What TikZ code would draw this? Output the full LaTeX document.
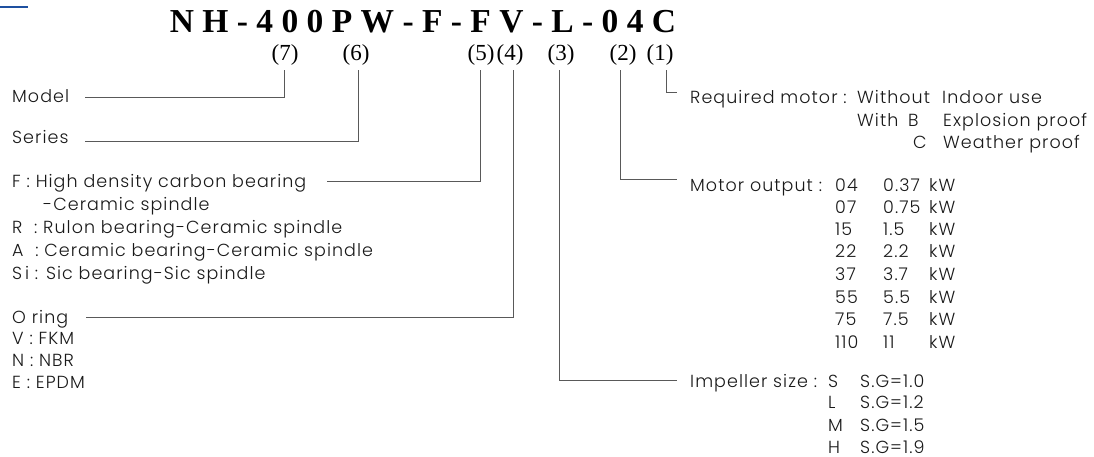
\documentclass[tikz,border=0pt]{standalone}
\usepackage{fontspec}
\setmainfont{Liberation Serif}
\newfontfamily\gothic[LetterSpace=6]{Poppins Light}
\definecolor{bluebar}{RGB}{30,80,160}
\definecolor{txt}{RGB}{25,25,25}
\begin{document}
\begin{tikzpicture}[x=1pt,y=-1pt,
  titlefont/.style={font=\fontsize{33.5}{40}\selectfont\bfseries},
  lbl/.style={font=\fontsize{23}{27}\selectfont, anchor=base, inner xsep=0pt, inner ysep=0pt, text depth=9pt},
  txtnode/.style={font=\gothic\fontsize{17.5}{21}\selectfont, anchor=base west, inner sep=0pt, text=txt},
  conn/.style={draw=black!65, line width=1pt}]
\useasboundingbox (0,0) rectangle (1094,457);
\fill[bluebar] (0,5.8) rectangle (28,8.2);
\node[titlefont, anchor=base, inner sep=0pt] (title) at (423,33) {N H - 4 0 0 P W - F - F V - L - 0 4 C};
% position labels
\node[lbl] (l7) at (285,61) {(7)};
\node[lbl] (l6) at (356,61) {(6)};
\node[lbl] (l5) at (481,61) {(5)};
\node[lbl] (l4) at (510,61) {(4)};
\node[lbl] (l3) at (561,61) {(3)};
\node[lbl] (l2) at (623,61) {(2)};
\node[lbl] (l1) at (660,61) {(1)};
% left texts
\node[txtnode] (model) at (12,103) {Model};
\node[txtnode] (series) at (12,144) {Series};
\node[txtnode] (f) at (12,188) {F : High density carbon bearing};
\node[txtnode] (fc) at (43,210) {-Ceramic spindle};
\node[txtnode] (r) at (12,233) {R\ \ : Rulon bearing-Ceramic spindle};
\node[txtnode] (a) at (12,256) {A\ \ : Ceramic bearing-Ceramic spindle};
\node[txtnode] (si) at (12,279) {S\,i : Sic bearing-Sic spindle};
\node[txtnode] (oring) at (12,323) {O ring};
\node[txtnode] (v) at (12,344) {V : FKM};
\node[txtnode] (n) at (12,366) {N : NBR};
\node[txtnode] (e) at (12,388) {E : EPDM};
% right: required motor
\node[txtnode] (req) at (690,104) {Required motor :};
\node[txtnode] (without) at (857,104) {Without};
\node[txtnode] (indoor) at (942,104) {Indoor use};
\node[txtnode] (with) at (857,127) {With};
\node[txtnode] (b) at (908,127) {B};
\node[txtnode] (expl) at (943,127) {Explosion proof};
\node[txtnode] (c) at (913,149) {C};
\node[txtnode] (weather) at (943,149) {Weather proof};
% motor output
\node[txtnode] (mo) at (690,192) {Motor output :};
\foreach \code/\val/\y [count=\i] in {04/0.37/192, 07/0.75/213, 15/1.5/235, 22/2.2/257, 37/3.7/280, 55/5.5/303, 75/7.5/325, 110/11/348}{
  \node[txtnode] (code\i) at (835,\y) {\code};
  \node[txtnode] (val\i) at (883,\y) {\val};
  \node[txtnode] (kw\i) at (929,\y) {kW};
}
% impeller
\node[txtnode] (imp) at (690,387) {Impeller size :};
\foreach \s/\g/\y [count=\i] in {S/1.0/387, L/1.2/408, M/1.5/431, H/1.9/453}{
  \node[txtnode] (is\i) at (828,\y) {\s};
  \node[txtnode] (ig\i) at (860,\y) {S.G=\g};
}
% connector end coordinates
\coordinate (e7) at (85,98);
\coordinate (e6) at (85,142);
\coordinate (e5) at (327,182);
\coordinate (e4) at (86,317);
\coordinate (e3) at (677,380);
\coordinate (e2) at (677,180);
\coordinate (e1) at (677,93);
\draw[conn] ([xshift=-1pt]l7.south) |- (e7);
\draw[conn] ([xshift=2pt]l6.south) |- (e6);
\draw[conn] ([xshift=-1pt]l5.south) |- (e5);
\draw[conn] ([xshift=3pt]l4.south) |- (e4);
\draw[conn] ([xshift=-2pt]l3.south) |- (e3);
\draw[conn] ([xshift=-3pt]l2.south) |- (e2);
\draw[conn] ([xshift=6pt]l1.south) |- (e1);
\end{tikzpicture}
\end{document}
